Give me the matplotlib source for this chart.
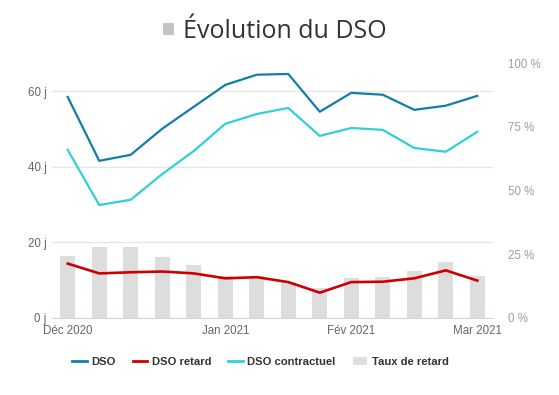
import matplotlib.pyplot as plt
from matplotlib.lines import Line2D
from matplotlib.patches import Patch, Rectangle
import numpy as np

# weekly points, Dec 2020 -> Mar 2021
dso = [58.5, 41.6, 43.2, 50.1, 55.9, 61.7, 64.4, 64.6, 54.6, 59.6, 59.1, 55.1, 56.2, 58.8]
dso_contractuel = [44.5, 29.9, 31.3, 38.1, 44.2, 51.4, 54.0, 55.6, 48.2, 50.3, 49.8, 45.0, 44.0, 49.3]
dso_retard = [14.4, 11.8, 12.1, 12.3, 11.8, 10.5, 10.8, 9.5, 6.7, 9.5, 9.6, 10.5, 12.6, 9.9]
taux_retard = [24.3, 27.8, 27.8, 23.9, 20.8, 16.5, 16.5, 14.1, 11.8, 15.7, 16.1, 18.4, 22.0, 16.5]

tick_pos = [0, 5, 9, 13]
tick_labels = ['Déc 2020', 'Jan 2021', 'Fév 2021', 'Mar 2021']

c_dso = '#0f7ea8'
c_retard = '#cc0000'
c_contr = '#2fd0d6'
c_bar = '#dddddd'

plt.rcParams['font.family'] = ['Liberation Sans', 'DejaVu Sans']

x = np.arange(len(dso))

fig = plt.figure(figsize=(5.59, 3.95), dpi=100)
ax = fig.add_axes([0.093, 0.195, 0.789, 0.6455])
ax2 = ax.twinx()
ax.set_zorder(ax2.get_zorder() + 1)
ax.patch.set_visible(False)

# bars on right axis (%)
ax2.bar(x, taux_retard, width=0.48, color=c_bar, zorder=1)
ax2.set_ylim(0, 100)
ax2.set_yticks([0, 25, 50, 75, 100])
ax2.set_yticklabels(['0 %', '25 %', '50 %', '75 %', '100 %'])
ax2.tick_params(axis='y', length=0, pad=11, labelsize=8.3, labelcolor='#a39d95')

# lines on left axis (days)
ax.plot(x, dso, color=c_dso, lw=1.6, zorder=3)
ax.plot(x, dso_retard, color=c_retard, lw=1.9, zorder=3)
ax.plot(x, dso_contractuel, color=c_contr, lw=1.6, zorder=3)
ax.set_ylim(0, 67.5)
ax.set_yticks([0, 20, 40, 60])
ax.set_yticklabels(['0 j', '20 j', '40 j', '60 j'])
ax.tick_params(axis='y', length=0, pad=4, labelsize=8.3, labelcolor='#666666')
ax.grid(axis='y', color='#e6e6e6', lw=1)
ax.set_xlim(-0.5, 13.5)
ax.set_xticks(tick_pos)
ax.set_xticklabels(tick_labels)
ax.tick_params(axis='x', length=0, pad=5, labelsize=8.3, labelcolor='#666666')

for a in (ax, ax2):
    for s in ['top', 'left', 'right']:
        a.spines[s].set_visible(False)
    a.spines['bottom'].set_color('#ccd6eb')
ax2.spines['bottom'].set_visible(False)

# title with grey square
fig.patches.append(Rectangle((163 / 559, 1 - 35 / 395), 11 / 559, 12 / 395,
                             transform=fig.transFigure, facecolor='#c4c4c4',
                             edgecolor='none'))
fig.text(183 / 559, 1 - 31 / 395, 'Évolution du DSO', fontsize=18, color='#333333',
         family='Open Sans', ha='left', va='center')

handles = [Line2D([0], [0], color=c_dso, lw=2),
           Line2D([0], [0], color=c_retard, lw=2),
           Line2D([0], [0], color=c_contr, lw=2),
           Patch(facecolor=c_bar, edgecolor='none')]
labels = ['DSO', 'DSO retard', 'DSO contractuel', 'Taux de retard']
fig.legend(handles, labels, loc='center', bbox_to_anchor=(0.466, 0.083), ncol=4,
           frameon=False, handlelength=1.3, handletextpad=0.4, columnspacing=1.5,
           prop={'family': 'Liberation Sans', 'weight': 'bold', 'size': 8.1},
           labelcolor='#333333')

fig.savefig('out.png', dpi=100)
